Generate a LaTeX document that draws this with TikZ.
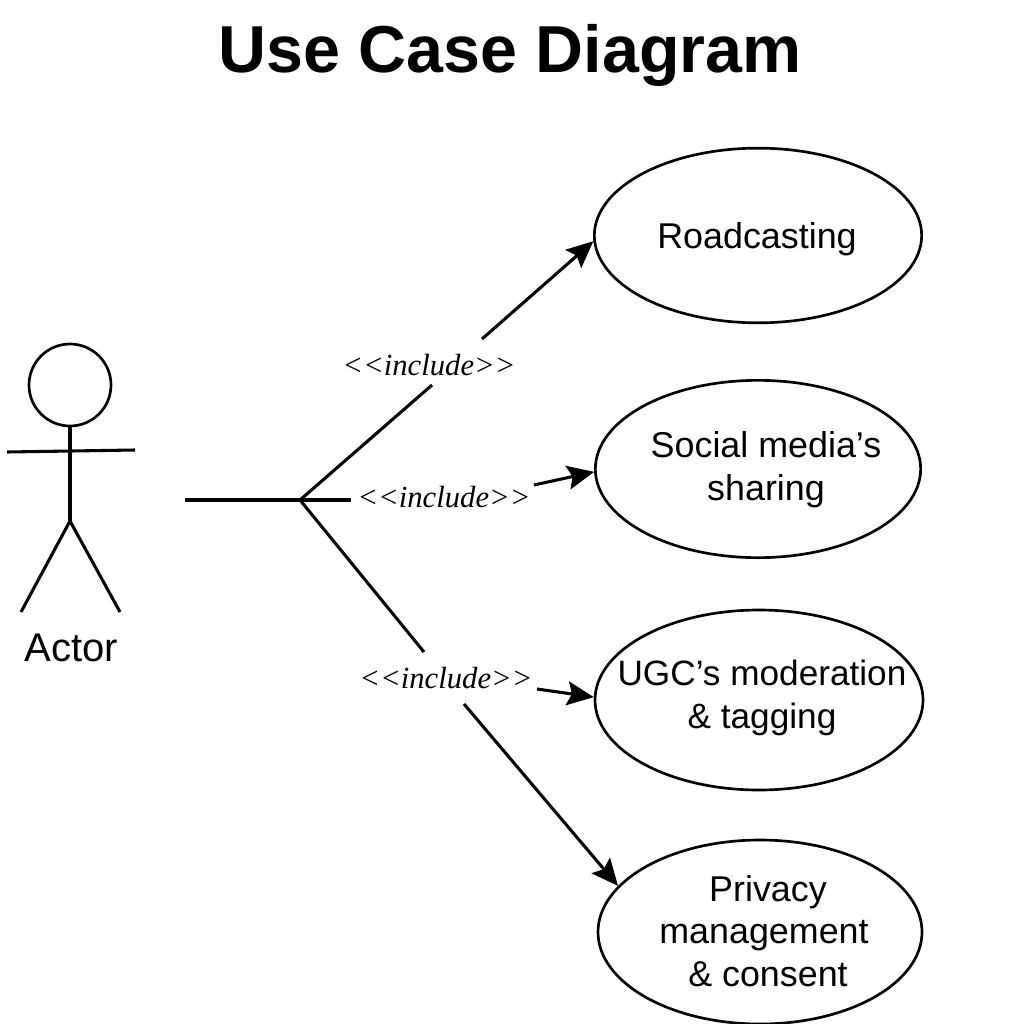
\documentclass[tikz,border=0pt]{standalone}
\usepackage{fontspec}
\setmainfont{Liberation Sans}
\newfontfamily\incfont{Liberation Serif}
\usetikzlibrary{shapes.geometric,arrows.meta}
\tikzset{
 usecase/.style={draw,ellipse,line width=2pt,inner sep=0pt},
 uctext/.style={align=center,font=\fontsize{26.9pt}{32pt}\selectfont},
 ln/.style={line width=2.3pt},
 arr/.style={ln,-{Stealth[length=20pt,width=18pt,inset=3.5pt]}},
 inc/.style={font=\incfont\itshape\fontsize{23pt}{26pt}\selectfont,inner sep=0pt},
}
\begin{document}
\begin{tikzpicture}[x=0.75pt,y=-0.75pt]
\useasboundingbox (0,0) rectangle (1024,1024);
\fill[white] (0,0) rectangle (1024,1024);
\node[font=\bfseries\fontsize{49.8pt}{55pt}\selectfont] (title) at (510,55) {Use Case Diagram};
\node[usecase,minimum width=245.5pt,minimum height=131pt] (u1) at (758,235.5) {};
\node[usecase,minimum width=244pt,minimum height=133pt] (u2) at (758,469) {};
\node[usecase,minimum width=246pt,minimum height=135pt] (u3) at (759,700) {};
\node[usecase,minimum width=243pt,minimum height=138pt] (u4) at (760,932) {};
\node[uctext] (t1) at (757,239) {Roadcasting};
\node[uctext] (t2) at (766,470) {Social media’s\\sharing};
\node[uctext,font=\fontsize{26.4pt}{32pt}\selectfont] (t3) at (762,698) {UGC’s moderation\\\& tagging};
\node[uctext] (t4) at (764,931) {\hspace{6pt}Privacy\\management\\\hspace{6pt}\& consent};
\node[draw,circle,line width=2pt,minimum size=61.5pt,inner sep=0pt] (head) at (70,385) {};
\coordinate (hip) at (70,521);
\coordinate (ha) at (7,452);
\coordinate (hb) at (135,450);
\coordinate (fa) at (21,612);
\coordinate (fb) at (120,612);
\draw[ln] (head.south) -- (hip);
\draw[ln] (ha) -- (hb);
\draw[ln] (fa) -- (hip) -- (fb);
\node[font=\fontsize{30pt}{34pt}\selectfont] (actor) at (71,648) {Actor};
\coordinate (s) at (185,500);
\coordinate (j) at (300,500);
\node[inc] (i1) at (429,365) {<{}<include>{}>};
\node[inc] (i2) at (444,497) {<{}<include>{}>};
\node[inc] (i3) at (446,678) {<{}<include>{}>};
\coordinate (a1) at (432,385);
\coordinate (b1) at (482,339);
\coordinate (a2) at (351,500);
\coordinate (b2) at (534,485);
\coordinate (a3) at (424,652);
\coordinate (b3) at (537,689);
\coordinate (c3) at (464,704);
\draw[ln] (s) -- (j);
\draw[ln] (j) -- (a1);
\draw[arr] (b1) -- (u1.182.6);
\draw[ln] (j) -- (a2);
\draw[arr] (b2) -- (u2.181.3);
\draw[ln] (j) -- (a3);
\draw[arr] (b3) -- (u3.179);
\draw[arr] (c3) -- (u4.162);
\end{tikzpicture}
\end{document}
